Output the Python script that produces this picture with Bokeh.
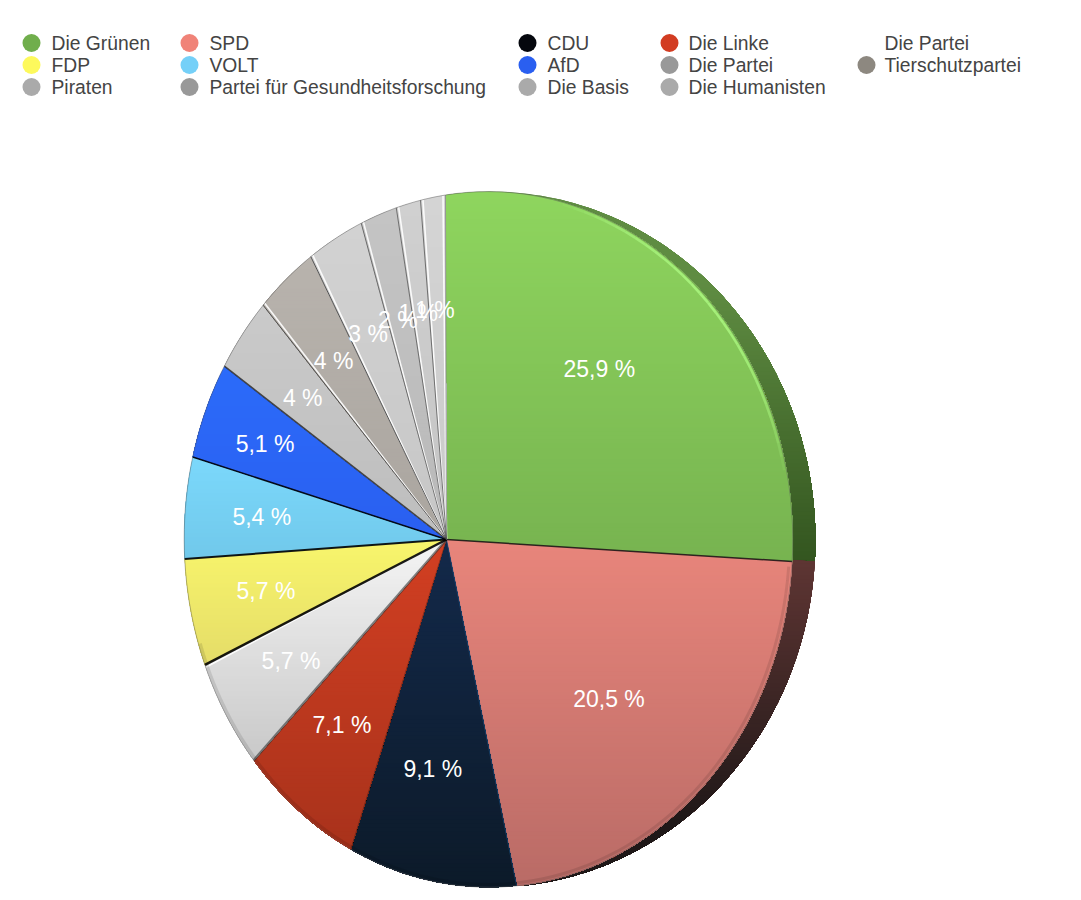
import math
from bokeh.plotting import figure
from bokeh.models import Range1d
from bokeh.core.properties import value
from bokeh.embed import file_html
from bokeh.resources import INLINE

# ---- data ----
parties = ["Die Grünen", "SPD", "CDU", "Die Linke", "Die Partei", "FDP", "VOLT", "AfD",
           "Die Partei", "Tierschutzpartei", "Piraten", "Partei für Gesundheitsforschung",
           "Die Basis", "Die Humanisten"]
shares = [25.9, 20.5, 9.1, 7.1, 5.7, 5.7, 5.4, 5.1, 3.85, 3.65, 3.25, 2.05, 1.35, 1.35]
labels = ["25,9 %", "20,5 %", "9,1 %", "7,1 %", "5,7 %", "5,7 %", "5,4 %", "5,1 %",
          "4 %", "4 %", "3 %", "2 %", "1 %", "1 %"]

# ---- styles ----
swatch = ["#70ae4c", "#f08378", "#05070d", "#d23c22", "#ffffff", "#fdf95c", "#75d0f8", "#2a5ff0",
          "#999999", "#8d8880", "#aaaaaa", "#999999", "#aaaaaa", "#aaaaaa"]
top_col = ["#8ed55e", "#e8857b", "#13294a", "#d23f22", "#f4f4f4", "#f8f56c", "#7bd8fb", "#2b6bfa",
           "#cacaca", "#b8b3ad", "#d2d2d2", "#c4c4c4", "#d0d0d0", "#d4d4d4"]
bot_col = ["#77b350", "#b96b66", "#0c1a29", "#a8321b", "#c8c8c8", "#e4dc68", "#70c8ea", "#2a5ff0",
           "#bdbdbd", "#aaa59f", "#c6c6c6", "#b9b9b9", "#c4c4c4", "#cacaca"]
# boundary at the start of each wedge: shadow colour, width, alpha, highlight side
edge = [("#888888", 1, .8, -1), ("#111111", 1.5, .85, 0), ("#1a4a7a", 1, .7, 0), ("#1a1a1a", 1, .4, 0),
        ("#333333", 2.5, .6, 0), ("#000000", 2.5, .9, -1), ("#000000", 2, .9, 0), ("#000000", 1.5, .9, 0),
        ("#222222", 1.5, .8, 0), ("#333333", 1, .8, 1), ("#333333", 1, .8, 1), ("#555555", 1, .8, 1),
        ("#555555", 1, .8, 1), ("#555555", 1, .8, 1)]
label_r = [.67, .67, .67, .67, .67, .67, .67, .72, .67, .67, .67, .67, .67, .67]
LEG_X = [31, 189, 527, 669, 866]
LEG_TX = [51, 209, 547, 688, 884]
LEG_Y = [42.5, 64.5, 86.5]

# ---- perspective of the disc ----
CX, CY = 446.0, 539.0
FACE_A, SIDE_A = 298.5, 318.0
def proj(th, r=1.0, a=FACE_A):
    u, v = r * math.sin(th), r * math.cos(th)
    w = 1 - 0.138 * u
    return CX + (a * u - 1.03 * v) / w, CY + (-0.52 * u - 344.5 * v) / w

def rgb(h):
    return tuple(int(h[i:i + 2], 16) for i in (1, 3, 5))
def mix(c1, c2, t):
    t = max(0.0, min(1.0, t))
    a, b = rgb(c1), rgb(c2)
    return "#%02x%02x%02x" % tuple(round(a[i] + (b[i] - a[i]) * t) for i in range(3))

def below(poly, yk):
    """Part of a polygon that lies at y >= yk."""
    out = []
    for i, (x0, y0) in enumerate(poly):
        x1, y1 = poly[(i + 1) % len(poly)]
        if y0 >= yk:
            out.append((x0, y0))
        if (y0 >= yk) != (y1 >= yk):
            t = (yk - y0) / (y1 - y0)
            out.append((x0 + (x1 - x0) * t, yk))
    return out

total = sum(shares)
starts, c = [], 0.0
for s in shares:
    starts.append(c / total * 2 * math.pi)
    c += s
ends = starts[1:] + [2 * math.pi]

def sector(i, a=FACE_A):
    n = max(4, int(math.degrees(ends[i] - starts[i])))
    return [(CX, CY)] + [proj(starts[i] + (ends[i] - starts[i]) * k / n, a=a) for k in range(n + 1)]

def layers(poly, c1, c2, y0, y1, step=4.0):
    """Paint a polygon from the top down, each layer covering what is below it."""
    ymin, ymax = min(q[1] for q in poly), max(q[1] for q in poly)
    xs, ys, cs = [], [], []
    yk = ymin
    while yk < ymax:
        part = below(poly, yk) if yk > ymin else poly
        if len(part) >= 3:
            xs.append([q[0] for q in part]); ys.append([q[1] for q in part])
            cs.append(mix(c1, c2, (yk - y0) / max(1.0, y1 - y0)))
        yk += step
    return xs, ys, cs

p = figure(width=1065, height=892, x_range=Range1d(0, 1065), y_range=Range1d(892, 0),
           output_backend="svg", toolbar_location=None, min_border=0, outline_line_color=None)
p.axis.visible = False
p.grid.visible = False
p.background_fill_color = "#ffffff"
p.border_fill_color = "#ffffff"

# side wall (green and pink wedges only)
side = [("#5f8c42", "#33551f", 280, 560), ("#5e3533", "#1f1818", 560, 820)]
for i in range(2):
    c1, c2, y0, y1 = side[i]
    xs, ys, cs = layers(sector(i, a=SIDE_A), c1, c2, y0, y1)
    p.patches(xs, ys, fill_color=cs, line_color=None)

# face of each wedge with its top-to-bottom gradient
for i in range(len(shares)):
    poly = sector(i)
    ymin, ymax = min(q[1] for q in poly), max(q[1] for q in poly)
    xs, ys, cs = layers(poly, top_col[i], bot_col[i], ymin, ymax)
    p.patches(xs, ys, fill_color=cs, line_color=None)

# wedge boundaries: highlights fan out from the centre, shadows on top
dx, dy, dc, dw, da = [], [], [], [], []
for i, (col, wd, al, hl) in enumerate(edge):
    a0, a1 = proj(starts[i], 0.0), proj(starts[i], 1.0)
    if hl:
        b = proj(starts[i] + 0.01)
        tx, ty = b[0] - a1[0], b[1] - a1[1]
        ln = math.hypot(tx, ty)
        ox, oy = hl * 2.5 * tx / ln, hl * 2.5 * ty / ln
        dx.append([a0[0], a1[0] + ox]); dy.append([a0[1], a1[1] + oy])
        dc.append("#ffffff"); dw.append(1.6); da.append(0.9)
for i, (col, wd, al, hl) in enumerate(edge):
    a0, a1 = proj(starts[i], 0.0), proj(starts[i], 1.0)
    dx.append([a0[0], a1[0]]); dy.append([a0[1], a1[1]])
    dc.append(col); dw.append(wd); da.append(al)
p.multi_line(dx, dy, line_color=dc, line_width=dw, line_alpha=da)

# rim: thin outline, soft dark band low down, bright line on the green wedge
rx, ry, rc, rw, ra = [], [], [], [], []
N = 180
for k in range(N):
    t0, t1 = 2 * math.pi * k / N, 2 * math.pi * (k + 1) / N
    pa, pb = proj(t0), proj(t1)
    deg = math.degrees(0.5 * (t0 + t1))
    rx.append([pa[0], pb[0]]); ry.append([pa[1], pb[1]])
    rc.append("#555555"); rw.append(1.0); ra.append(0.45)
    if 93 < deg < 250:
        pa, pb = proj(t0, 0.992), proj(t1, 0.992)
        rx.append([pa[0], pb[0]]); ry.append([pa[1], pb[1]])
        rc.append("#000000"); rw.append(3.0); ra.append(0.10)
    if 22 < deg < 80:
        pa, pb = proj(t0, 0.994), proj(t1, 0.994)
        rx.append([pa[0], pb[0]]); ry.append([pa[1], pb[1]])
        rc.append("#a8f47e"); rw.append(2.5)
        ra.append(0.9 * math.sin(math.radians((deg - 22) / 58 * 180)) ** 0.7)
p.multi_line(rx, ry, line_color=rc, line_width=rw, line_alpha=ra)

# percent labels
lx, ly = [], []
for i in range(len(shares)):
    q = proj(0.5 * (starts[i] + ends[i]), label_r[i])
    lx.append(q[0] - 2.5); ly.append(q[1])
p.text(lx, ly, text=labels, text_color="#ffffff", text_font=value("Liberation Sans"),
       text_font_size="23px", text_align="center", text_baseline="middle")

# legend, filled row by row
sx, sy, tx, ty = [], [], [], []
for i in range(len(parties)):
    r, col = divmod(i, 5)
    sx.append(LEG_X[col]); sy.append(LEG_Y[r]); tx.append(LEG_TX[col]); ty.append(LEG_Y[r])
p.scatter(sx, sy, marker="circle", size=18, fill_color=swatch, line_color=None)
p.text(tx, ty, text=parties, text_color="#444444", text_font=value("Liberation Sans"),
       text_font_size="19.3px", text_align="left", text_baseline="middle")

open("out.html", "w").write(file_html(p, INLINE))
